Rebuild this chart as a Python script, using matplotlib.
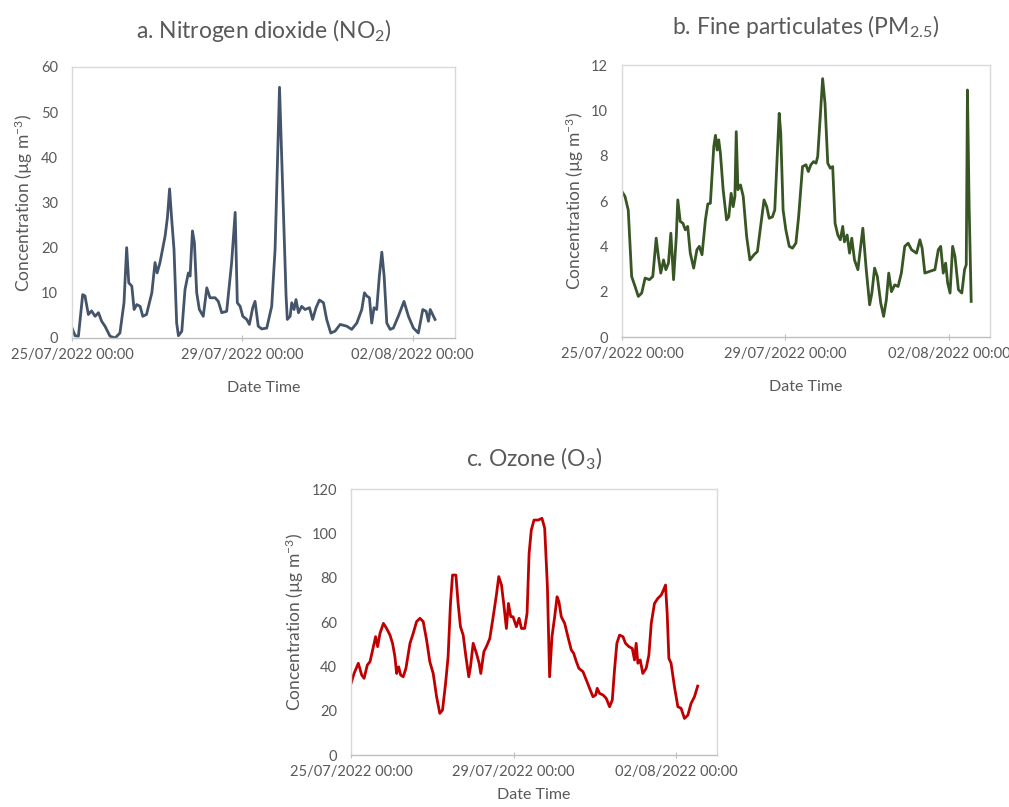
import numpy as np
import matplotlib
matplotlib.use("Agg")
import matplotlib.pyplot as plt
import matplotlib.dates as mdates

plt.rcParams['font.family'] = ['Lato', 'DejaVu Sans']
plt.rcParams['mathtext.fontset'] = 'custom'
plt.rcParams['mathtext.rm'] = 'Lato'
plt.rcParams['mathtext.it'] = 'Lato:italic'

start = np.datetime64('2022-07-25T00:00')

# hours since start, concentration (ug m-3)
no2_hours = [0, 1.7, 3.6, 6, 7.3, 9.2, 11, 13, 14.9, 16.7, 18.6, 21.4, 24.3, 27, 29.3, 30.8, 32, 33.7,
             35, 36.5, 38.4, 39.9, 42, 45, 46.8, 48, 49.6, 52.5, 53.8, 55, 56.2, 57.5, 59, 60, 61.9,
             63.7, 65.6, 66.6, 67.9, 69, 70.3, 71.8, 74, 76, 77.8, 80.7, 82.5, 84.4, 87.2, 90, 92,
             93.2, 94.8, 96.3, 98.5, 100, 101.9, 103.2, 105, 107, 109.8, 112.6, 114.5, 117, 118.8,
             120.7, 121.4, 123, 123.9, 125.2, 126.3, 127.7, 129.5, 131.4, 133.9, 135.7, 137.6, 139.5,
             141.8, 143.6, 145.9, 148.3, 151.2, 155, 157.7, 160.6, 163.4, 164.9, 166.2, 167.7, 169,
             170.3, 171.8, 173.3, 174.7, 176, 177.5, 179.4, 181.2, 184, 187.2, 189.7, 192.5, 195.3,
             197.8, 199.7, 201, 202, 204.7]
no2_vals = [2.2, 0.5, 0.4, 9.6, 9.3, 5.2, 6, 4.8, 5.6, 3.7, 2.6, 0.4, 0, 1.1, 7.8, 20, 12.2, 11.5,
            6.3, 7.4, 7, 4.8, 5.2, 10, 16.7, 14.4, 16.7, 22.6, 26.7, 33, 26.3, 19.6, 3.3, 0.5, 1.5,
            10.7, 14.4, 13.7, 23.7, 21.1, 10, 6.3, 4.8, 11.1, 8.9, 8.9, 8.1, 5.6, 5.9, 16.7, 27.8,
            7.8, 7.0, 4.8, 4.1, 3.0, 6.7, 8.1, 2.6, 2.0, 2.2, 7.0, 19.6, 55.5, 33, 9.3, 4.1, 4.8,
            7.8, 6.3, 8.5, 5.6, 7.0, 6.3, 6.7, 4.1, 6.7, 8.4, 7.8, 4.1, 1.1, 1.5, 3.0, 2.6, 1.9,
            3.3, 6.3, 10, 9.3, 8.9, 3.3, 6.7, 6.3, 13.7, 19, 13.7, 3.3, 1.9, 2.2, 4.8, 8.1, 4.8,
            2.2, 1.1, 6.3, 5.9, 3.7, 6.3, 4.1]

pm25_hours = [0, 1.8, 3.7, 5.7, 7.7, 9.6, 11.6, 13.6, 16.1, 18.1, 20.1, 21.4, 22.8, 24.4, 25.8,
              27.3, 28.7, 30.3, 31.9, 32.8, 34.2, 35.8, 37.2, 38.6, 40.1, 42.1, 44, 45.4, 47, 49,
              50.4, 51.9, 53.9, 54.9, 55.9, 56.8, 57.8, 59.4, 61.4, 62.7, 64.1, 65.3, 66.3, 67.1,
              68.1, 69.6, 71.2, 73.2, 75.1, 77.5, 79.5, 81.4, 83.4, 85, 86.4, 88.3, 89.7, 91.3,
              92.3, 93.2, 94.6, 96.2, 98.2, 100.1, 102.1, 103.7, 106, 108, 109.4, 110.9, 112.5,
              113.9, 114.9, 116.4, 117.8, 119.2, 120.8, 122.3, 123.7, 125.1, 126.7, 128.2, 129.6,
              130.6, 132.2, 133.6, 134.9, 136.5, 138.5, 141.4, 143.4, 145.4, 146.7, 148.3, 149.9,
              151.9, 153.6, 155.2, 156.6, 158.2, 160.1, 162.1, 164, 166, 168, 170, 172.9, 174.9,
              176.2, 177.8, 180.8, 183.7, 185.7, 187.1, 188.6, 190, 191.2, 192.6, 194.1, 195.5,
              197.5, 199.5, 201.1, 202.1, 202.8, 203.8, 205]
pm25_vals = [6.42, 6.2, 5.6, 2.67, 2.23, 1.79, 1.94, 2.6, 2.53, 2.67, 4.36, 3.55, 2.82, 3.4, 2.97,
             3.26, 4.58, 2.53, 4.43, 6.05, 5.1, 5.02, 4.73, 4.88, 3.7, 3.04, 3.85, 4.0, 3.63, 5.17,
             5.87, 5.9, 8.4, 8.9, 8.25, 8.7, 8.1, 6.5, 5.17, 5.3, 6.34, 5.75, 6.2, 9.06, 6.5, 6.71,
             6.2, 4.43, 3.4, 3.63, 3.77, 4.88, 6.05, 5.75, 5.24, 5.3, 5.6, 8.25, 9.87, 9.0, 5.6,
             4.73, 4.0, 3.92, 4.14, 5.3, 7.52, 7.6, 7.3, 7.6, 7.74, 7.67, 7.96, 9.72, 11.4, 10.3,
             7.67, 7.45, 7.52, 5.02, 4.5, 4.29, 4.88, 4.2, 4.5, 3.7, 4.36, 3.4, 2.97, 4.8, 2.97,
             1.42, 1.94, 3.04, 2.67, 1.5, 0.91, 1.64, 2.82, 2.0, 2.3, 2.23, 2.82, 4.0, 4.14, 3.85,
             3.7, 4.29, 3.92, 2.82, 2.9, 2.97, 3.85, 4.0, 2.82, 3.26, 2.38, 1.94, 4.0, 3.55, 2.09,
             1.94, 2.97, 3.19, 10.9, 5.75, 1.57]

o3_hours = [0, 1.8, 4.3, 6.3, 7.7, 9.6, 11.2, 13.2, 14.5, 15.7, 17.1, 19.1, 21, 23, 24.5, 25.9,
            26.9, 28.1, 29.3, 30.8, 32.4, 34.8, 36.7, 38.7, 40.7, 42.6, 44.6, 46.5, 48.5, 50.5,
            52.4, 54, 55.8, 57.3, 58.7, 59.9, 61.9, 63.2, 64.6, 66.2, 67.8, 69.5, 70.5, 72.1, 74,
            75.6, 76.6, 78.4, 79.9, 81.9, 83.9, 85.8, 87.2, 88.8, 90.1, 91.7, 92.9, 94.3, 95.6,
            97.6, 99.2, 100.6, 102.5, 103.9, 105.1, 106.4, 108, 110.4, 112.7, 114.3, 115.9, 117.2,
            118.6, 120.2, 121.6, 122.7, 124.1, 126.1, 128, 130, 131.4, 133, 134.5, 136.9, 138.9,
            140.8, 142.8, 144.4, 145.3, 146.7, 148.7, 150.6, 152.6, 154.2, 155.5, 156.9, 158.5,
            160.5, 162, 164, 166, 167.3, 168.3, 169.3, 170.7, 172.2, 174.2, 175.8, 177.2, 179.1,
            181.1, 183.1, 184.4, 185.6, 186.6, 187.6, 188.9, 190.9, 192.9, 194.8, 196.8, 198.8,
            200.7, 202.7, 204.6]
o3_vals = [32.3, 36.8, 41.4, 36.1, 34.6, 40.6, 42.1, 48.9, 53.4, 48.9, 54.9, 59.4, 57.1, 54.1,
           50.4, 44.4, 36.8, 39.8, 36.1, 35.3, 39.1, 50.4, 54.9, 60.2, 61.7, 60.2, 51.9, 42.1,
           36.8, 26.3, 18.8, 20.3, 32.3, 44.4, 68.4, 81.2, 81.2, 68.4, 57.9, 54.1, 44.4, 35.3,
           39.8, 50.4, 45.9, 41.4, 36.8, 46.6, 48.9, 52.6, 62.4, 72.2, 80.5, 76.7, 68.4, 57.1,
           68.4, 62.4, 62.4, 57.9, 61.7, 57.1, 57.1, 63.9, 91, 101.5, 106, 106, 106.8, 102.3, 76,
           35.3, 53.4, 62.4, 71.4, 69.2, 62.4, 59.4, 53.4, 47.4, 45.9, 42.1, 39.1, 37.6, 33.8,
           30.1, 26.3, 27.1, 30.1, 27.8, 27.1, 25.6, 21.8, 24.8, 38.3, 50.4, 54.1, 53.4, 50.4,
           48.9, 48.1, 42.9, 50.4, 41.4, 42.9, 36.8, 39.1, 45.1, 59.4, 68.4, 70.7, 72.2, 74.4,
           76.7, 63.9, 43.6, 41.4, 30.8, 21.8, 21.1, 16.5, 18, 23.3, 26.3, 31.1]

titles = [r"a. Nitrogen dioxide (NO$_2$)", r"b. Fine particulates (PM$_{2.5}$)", r"c. Ozone (O$_3$)"]
ylims = [(0, 60), (0, 12), (0, 120)]
ysteps = [10, 2, 20]
colors = ["#44546a", "#375623", "#c00000"]
tick_dates = ['2022-07-25', '2022-07-29', '2022-08-02']

series = [(no2_hours, no2_vals), (pm25_hours, pm25_vals), (o3_hours, o3_vals)]
boxes = [[0.0714, 0.5812, 0.3796, 0.3358],
         [0.6164, 0.5824, 0.3647, 0.3370],
         [0.3479, 0.0644, 0.3627, 0.3296]]
title_pads = [21, 22, 16]
xlabel_pads = [14, 14, 7]

grey = "#595959"
fig = plt.figure(figsize=(10.09, 8.07), dpi=100)

for i, ((hrs, vals), title, ylim, ystep, col, box) in enumerate(
        zip(series, titles, ylims, ysteps, colors, boxes)):
    ax = fig.add_axes(box)
    t = start + (np.array(hrs) * 60).astype('timedelta64[m]')
    ax.plot(t, vals, color=col, lw=2.0)
    ax.set_xlim(np.datetime64('2022-07-25'), np.datetime64('2022-08-03'))
    ax.set_ylim(*ylim)
    ax.set_yticks(np.arange(ylim[0], ylim[1] + ystep, ystep))
    ax.set_xticks([np.datetime64(d) for d in tick_dates])
    ax.xaxis.set_major_formatter(mdates.DateFormatter('%d/%m/%Y %H:%M'))
    for s in ax.spines.values():
        s.set_color("#d9d9d9")
        s.set_linewidth(1.0)
    ax.spines['bottom'].set_color("#bfbfbf")
    ax.tick_params(axis='y', length=0, pad=10, labelsize=10.5, labelcolor=grey)
    ax.tick_params(axis='x', length=4, direction='inout', color="#bfbfbf", pad=5,
                   labelsize=10.5, labelcolor=grey)
    ax.set_title(title, fontsize=16.5, color=grey, pad=title_pads[i])
    ax.set_xlabel("Date Time", fontsize=11.5, color=grey, labelpad=xlabel_pads[i])
    ax.set_ylabel("Concentration (µg m$^{-3}$)", fontsize=12.5, color=grey, labelpad=4)

plt.savefig("out.png", dpi=100)
